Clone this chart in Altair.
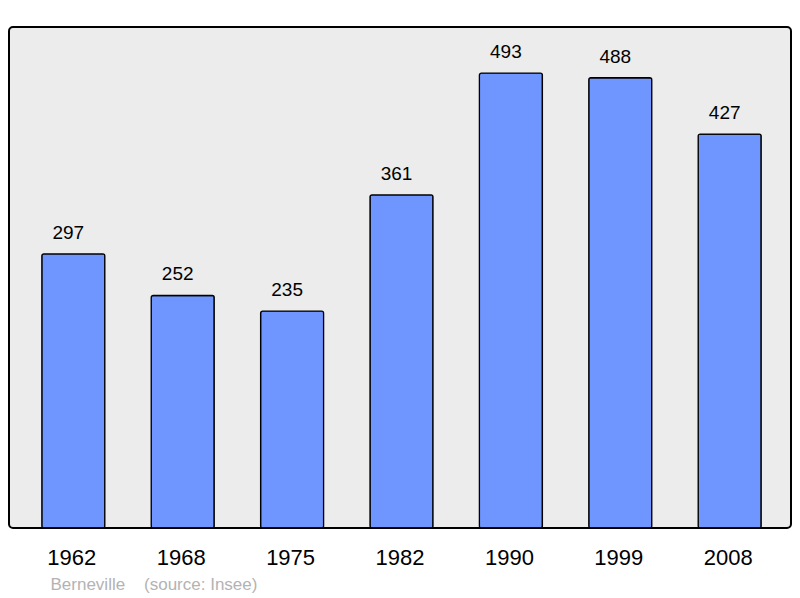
import altair as alt
import pandas as pd

years = ["1962", "1968", "1975", "1982", "1990", "1999", "2008"]
population = [297, 252, 235, 361, 493, 488, 427]

df = pd.DataFrame({"year": years, "pop": population})

FONT = "Liberation Sans"

x = alt.X(
    "year:N",
    sort=years,
    scale=alt.Scale(paddingInner=0.424, paddingOuter=0.3, range=[0, 785]),
    axis=alt.Axis(
        title="Berneville\u00a0\u00a0\u00a0 (source: Insee)",
        titleX=41,
        titleY=61,
        titleAlign="left",
        titleAnchor="start",
        titleBaseline="alphabetic",
        titleFont=FONT,
        titleFontSize=17,
        titleFontWeight="normal",
        titleColor="#b3b3b3",
        labelAngle=0,
        labelFont=FONT,
        labelFontSize=22,
        labelColor="#000000",
        labelBaseline="alphabetic",
        labelPadding=36,
        labelOffset=-1.5,
        ticks=False,
        tickSize=0,
        domain=False,
        grid=False,
    ),
)
y = alt.Y(
    "pop:Q",
    scale=alt.Scale(domain=[0, 543], nice=False),
    axis=None,
)

bars = alt.Chart(df).mark_bar(
    color="#6f96ff",
    stroke="#000000",
    strokeWidth=1.3,
    cornerRadius=2,
).encode(x=x, y=y)

labels = alt.Chart(df).mark_text(
    font=FONT,
    fontSize=19,
    baseline="alphabetic",
    dy=-15,
    dx=-5,
    color="#000000",
).encode(x=x, y=y, text="pop:Q")

chart = (
    alt.layer(bars, labels)
    .properties(
        width=782,
        height=501,
        autosize=alt.AutoSizeParams(type="none"),
        padding={"left": 1, "top": 19, "right": 1, "bottom": 70},
        background="#ffffff",
    )
    .configure_view(
        fill="#ececec",
        stroke="#000000",
        strokeWidth=2,
        cornerRadius=4,
    )
)

chart.save("out.html", embed_options={"renderer": "svg", "actions": False})
